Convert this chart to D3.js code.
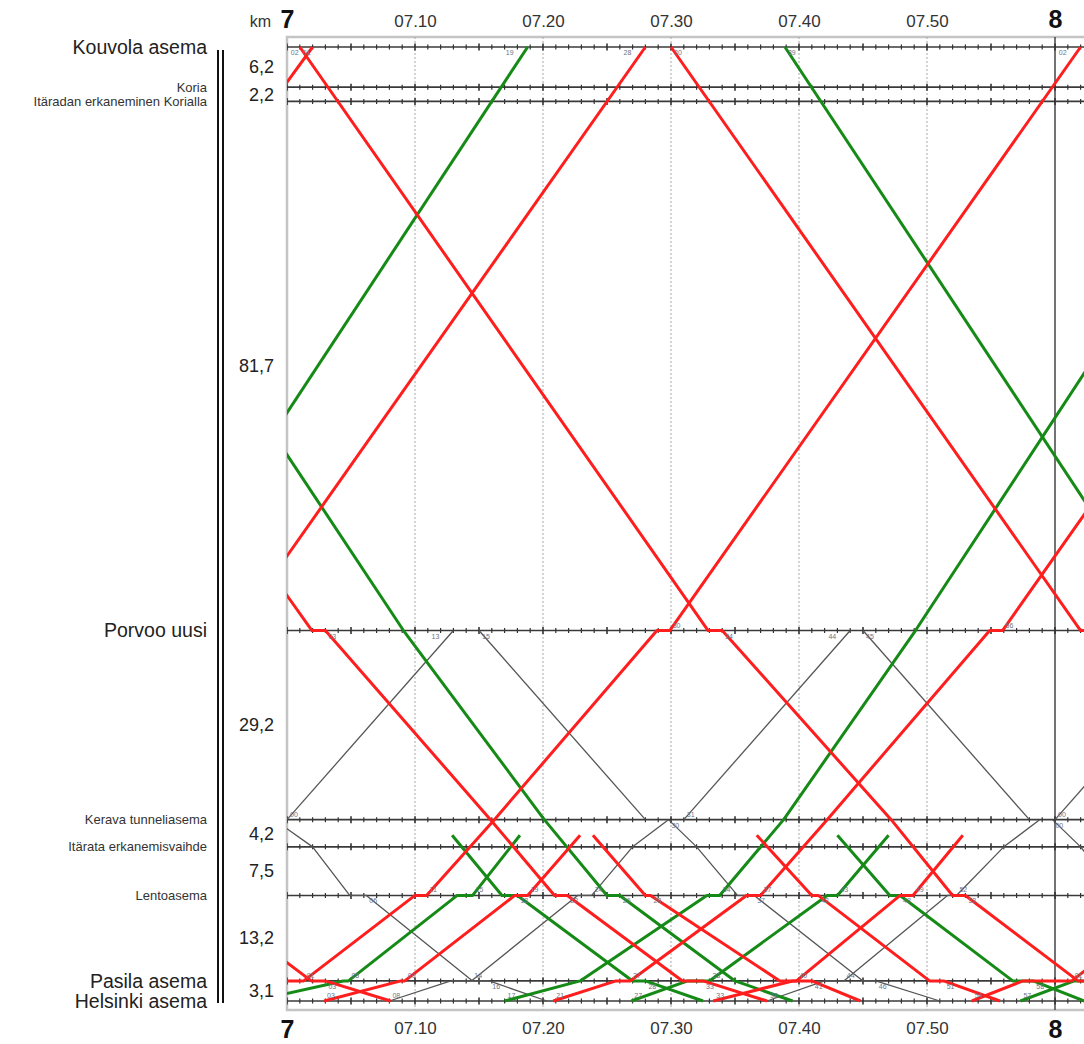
<!DOCTYPE html>
<html>
<head>
<meta charset="utf-8">
<script src="https://cdn.jsdelivr.net/npm/d3@7"></script>
<style>
  body { margin: 0; background: #fff; }
  svg { display: block; font-family: "Liberation Sans", Arial, sans-serif; }
</style>
</head>
<body>
<div id="chart"></div>
<script>
// ---- stations, from Helsinki upwards (km from Helsinki) ----
const stationCodes = ["HKI", "PSL", "LEN", "ITE", "KRV", "PRV", "ITK", "KRA", "KV"];
const stationNames = ["Helsinki asema", "Pasila asema", "Lentoasema", "Itärata erkanemisvaihde",
  "Kerava tunneliasema", "Porvoo uusi", "Itäradan erkaneminen Korialla", "Koria", "Kouvola asema"];
const stationKm = [0, 3.1, 16.3, 23.8, 28.0, 57.2, 138.9, 141.1, 147.3];
const majorStations = ["HKI", "PSL", "PRV", "KV"];
// trains to/from the main line leave the drawing here (between ITE and KRV)
const branchCode = "PR";
const branchKm = 25.6;

// ---- time axis: minutes after 07:00 ----
const tickMinutes = [0, 10, 20, 30, 40, 50, 60];
const tickLabels = ["7", "07.10", "07.20", "07.30", "07.40", "07.50", "8"];

// ---- trains: [minute after 07:00, station] ----
const redTrains = [
  [[-59.3, "KV"], [-27.1, "PRV"], [-26, "PRV"], [-12.8, "KRV"], [-8, "LEN"], [-7, "LEN"], [1.9, "PSL"], [3, "PSL"], [8.1, "HKI"]],
  [[-30.5, "KV"], [1.95, "PRV"], [3, "PRV"], [15.9, "KRV"], [20.9, "LEN"], [21.9, "LEN"], [30.9, "PSL"], [32.5, "PSL"], [37.5, "HKI"]],
  [[1, "KV"], [32.9, "PRV"], [34, "PRV"], [47.2, "KRV"], [52, "LEN"], [53, "LEN"], [61.8, "PSL"], [63, "PSL"], [68.1, "HKI"]],
  [[30, "KV"], [62, "PRV"], [63, "PRV"], [76, "KRV"]],
  [[-31.1, "PRV"], [2, "KV"]],
  [[-4.1, "PRV"], [28, "KV"]],
  [[-6.5, "HKI"], [-2.5, "PSL"], [1.3, "PSL"], [10, "LEN"], [10.9, "LEN"], [16.2, "KRV"], [28.9, "PRV"], [29.9, "PRV"], [62, "KV"]],
  [[20.8, "HKI"], [25.7, "PSL"], [26.8, "PSL"], [35.9, "LEN"], [37, "LEN"], [42.2, "KRV"], [54.9, "PRV"], [55.9, "PRV"], [88, "KV"]],
  [[53.5, "HKI"], [57.5, "PSL"], [61.3, "PSL"], [70, "LEN"]],
  [[2.9, "HKI"], [8.9, "PSL"], [9.2, "PSL"], [17.8, "LEN"], [18.8, "LEN"], [22.9, "PR"]],
  [[33.3, "HKI"], [39.5, "PSL"], [39.8, "PSL"], [47.9, "LEN"], [48.9, "LEN"], [52.8, "PR"]],
  [[23.9, "PR"], [28, "LEN"], [28.4, "LEN"], [38.5, "PSL"], [41, "PSL"], [44.8, "HKI"]],
  [[36.7, "PR"], [41, "LEN"], [41.5, "LEN"], [50.2, "PSL"], [51.3, "PSL"], [55.7, "HKI"]]
];

const greenTrains = [
  [[-11.2, "PRV"], [18.8, "KV"]],
  [[17, "HKI"], [22.9, "PSL"], [32.8, "LEN"], [33.8, "LEN"], [38.8, "KRV"], [49.1, "PRV"], [79, "KV"]],
  [[-21.1, "KV"], [9.1, "PRV"], [20.1, "KRV"], [25, "LEN"], [26, "LEN"], [35, "PSL"], [39.5, "HKI"]],
  [[38.9, "KV"], [69, "PRV"]],
  [[-2.6, "HKI"], [4.4, "PSL"], [4.8, "PSL"], [13.3, "LEN"], [14.5, "LEN"], [18.2, "PR"]],
  [[26.9, "HKI"], [31.3, "PSL"], [33, "PSL"], [42.2, "LEN"], [43, "LEN"], [47, "PR"]],
  [[57.3, "HKI"], [61.5, "PSL"], [62.5, "PSL"], [71, "LEN"]],
  [[12.9, "PR"], [16.8, "LEN"], [18, "LEN"], [27, "PSL"], [28, "PSL"], [32.5, "HKI"]],
  [[43, "PR"], [47.1, "LEN"], [47.9, "LEN"], [56.7, "PSL"], [58.3, "PSL"], [62.3, "HKI"]]
];

const blackTrains = [
  [[0, "KRV"], [13, "PRV"]],
  [[15, "PRV"], [28, "KRV"]],
  [[31, "KRV"], [44, "PRV"]],
  [[45, "PRV"], [58, "KRV"]],
  [[60, "KRV"], [73, "PRV"]],
  [[-1, "KRV"], [2, "ITE"], [4.9, "LEN"], [6.2, "LEN"], [14.5, "PSL"], [15.8, "PSL"], [20.3, "HKI"]],
  [[8, "HKI"], [12.8, "PSL"], [14.4, "PSL"], [22.7, "LEN"], [23.8, "LEN"], [27, "ITE"], [29.8, "KRV"]],
  [[29.8, "KRV"], [32, "ITE"], [35.2, "LEN"], [36.5, "LEN"], [45, "PSL"], [46, "PSL"], [51, "HKI"]],
  [[37.5, "HKI"], [42, "PSL"], [43.5, "PSL"], [51.6, "LEN"], [52.3, "LEN"], [56, "ITE"], [58.8, "KRV"]],
  [[59.8, "KRV"], [62, "ITE"], [65, "LEN"]]
];

// arrival minutes are written only where up trains end at these stations
const arrivalLabelStations = ["KV", "PRV"];

// ------------------------------------------------------------
const W = 1084, H = 1044;
const plotLeft = 287, plotRight = 1084, plotTop = 37, plotBottom = 1010;

const kmOf = {};
stationCodes.forEach((c, i) => kmOf[c] = stationKm[i]);
kmOf[branchCode] = branchKm;

const x = d3.scaleLinear().domain([0, 60]).range([287, 1055]);
const y = d3.scaleLinear().domain([0, 147.3]).range([1001, 47]);
const endMinute = x.invert(plotRight);

const svg = d3.select("#chart").append("svg")
  .attr("width", W)
  .attr("height", H);

svg.append("defs").append("clipPath").attr("id", "plot")
  .append("rect")
  .attr("x", plotLeft).attr("y", plotTop)
  .attr("width", plotRight - plotLeft).attr("height", plotBottom - plotTop);

// frame
svg.append("rect")
  .attr("x", plotLeft).attr("y", plotTop)
  .attr("width", plotRight - plotLeft + 10).attr("height", plotBottom - plotTop)
  .attr("fill", "none")
  .attr("stroke", "#c4c4c4")
  .attr("stroke-width", 2.5);

// 10 minute grid
svg.append("g").selectAll("line")
  .data(tickMinutes.filter(m => m > 0))
  .join("line")
  .attr("x1", d => x(d)).attr("x2", d => x(d))
  .attr("y1", plotTop).attr("y2", plotBottom)
  .attr("stroke", d => d % 60 === 0 ? "#444" : "#a8a8a8")
  .attr("stroke-width", d => d % 60 === 0 ? 1.5 : 1)
  .attr("stroke-dasharray", d => d % 60 === 0 ? null : "2,2");

// station lines with minute ticks
const stations = stationCodes.map((c, i) => ({ code: c, name: stationNames[i], km: stationKm[i] }));
const minutes = d3.range(0, Math.floor(endMinute) + 1);

const stG = svg.append("g").attr("clip-path", "url(#plot)");
stG.selectAll(".st-line")
  .data(stations)
  .join("line")
  .attr("class", "st-line")
  .attr("x1", plotLeft).attr("x2", plotRight)
  .attr("y1", d => y(d.km)).attr("y2", d => y(d.km))
  .attr("stroke", "#3a3a3a")
  .attr("stroke-width", 1.6);

stations.forEach(s => {
  stG.append("g").selectAll("line")
    .data(minutes)
    .join("line")
    .attr("x1", m => x(m)).attr("x2", m => x(m))
    .attr("y1", m => y(s.km) - (m % 5 === 0 ? 3.5 : 2.5))
    .attr("y2", m => y(s.km) + (m % 5 === 0 ? 3.5 : 2.5))
    .attr("stroke", "#333")
    .attr("stroke-width", m => m % 5 === 0 ? 1.6 : 1.2);
});

// trains
const line = d3.line()
  .x(d => x(d[0]))
  .y(d => y(kmOf[d[1]]));

const trG = svg.append("g").attr("clip-path", "url(#plot)");

function drawTrains(data, color, width) {
  trG.append("g").selectAll("path")
    .data(data)
    .join("path")
    .attr("d", line)
    .attr("fill", "none")
    .attr("stroke", color)
    .attr("stroke-width", width)
    .attr("stroke-linejoin", "round");
}
drawTrains(blackTrains, "#555", 1.3);
drawTrains(greenTrains, "#168a16", 3);
drawTrains(redTrains, "#ff1e1e", 3);

// minute labels at departures (and at a few arrivals)
const pad2 = d3.format("02d");
const labels = [];
[...redTrains, ...greenTrains, ...blackTrains].forEach(tr => {
  tr.forEach((p, i) => {
    if (p[1] === branchCode) return;
    const prev = tr[i - 1], next = tr[i + 1];
    const text = pad2(((Math.round(p[0]) % 60) + 60) % 60);
    if (next && next[1] !== p[1] && (!prev || prev[1] === p[1])) {
      const up = kmOf[next[1]] > kmOf[p[1]];
      labels.push({ t: p[0], km: kmOf[p[1]], text, dx: 3, dy: up ? -3 : 8, anchor: "start" });
    } else if (!next && prev && kmOf[p[1]] > kmOf[prev[1]] && arrivalLabelStations.includes(p[1])) {
      labels.push({ t: p[0], km: kmOf[p[1]], text, dx: -14, dy: 8, anchor: "end" });
    }
  });
});

trG.append("g").selectAll("text")
  .data(labels.filter(d => d.t >= -1 && d.t <= endMinute))
  .join("text")
  .attr("x", d => x(d.t) + d.dx)
  .attr("y", d => y(d.km) + d.dy)
  .attr("text-anchor", d => d.anchor)
  .attr("font-size", "7px")
  .attr("fill", "#6b7488")
  .text(d => d.text);

// time axes
function styleAxis(g, baseline, hourBaseline) {
  const isHour = (d, i) => i === 0 || i === tickMinutes.length - 1;
  g.select(".domain").remove();
  g.selectAll(".tick line").remove();
  g.selectAll(".tick text")
    .attr("dy", null)
    .attr("y", (d, i) => isHour(d, i) ? hourBaseline : baseline)
    .attr("fill", (d, i) => isHour(d, i) ? "#111" : "#333")
    .attr("font-size", (d, i) => isHour(d, i) ? "25px" : "17px")
    .attr("font-weight", (d, i) => isHour(d, i) ? "bold" : null)
    .attr("font-family", "Liberation Sans, Arial, sans-serif");
}

svg.append("g")
  .call(d3.axisTop(x).tickValues(tickMinutes).tickFormat((d, i) => tickLabels[i]).tickSize(0))
  .call(g => styleAxis(g, 27, 28));

svg.append("g")
  .call(d3.axisBottom(x).tickValues(tickMinutes).tickFormat((d, i) => tickLabels[i]).tickSize(0))
  .call(g => styleAxis(g, 1034, 1038));

svg.append("text")
  .attr("x", 271).attr("y", 27)
  .attr("text-anchor", "end")
  .attr("font-size", "16px")
  .attr("fill", "#333")
  .text("km");

// station names
svg.append("g").selectAll("text")
  .data(stations)
  .join("text")
  .attr("x", 207)
  .attr("y", d => y(d.km))
  .attr("dy", "0.35em")
  .attr("text-anchor", "end")
  .attr("font-size", d => majorStations.includes(d.code) ? "19.5px" : "13px")
  .attr("fill", d => majorStations.includes(d.code) ? "#222" : "#333")
  .text(d => d.name);

// double bar
[218, 223].forEach(bx => {
  svg.append("line")
    .attr("x1", bx).attr("x2", bx)
    .attr("y1", y(147.3) + 3).attr("y2", y(0) + 2)
    .attr("stroke", "#111")
    .attr("stroke-width", 2);
});

// distances between stations
const fmtKm = v => v.toFixed(1).replace(".", ",");
svg.append("g").selectAll("text")
  .data(d3.pairs(stations))
  .join("text")
  .attr("x", 274)
  .attr("y", d => (y(d[0].km) + y(d[1].km)) / 2)
  .attr("dy", "0.35em")
  .attr("text-anchor", "end")
  .attr("font-size", "18px")
  .attr("fill", "#222")
  .text(d => fmtKm(d[1].km - d[0].km));
</script>
</body>
</html>
